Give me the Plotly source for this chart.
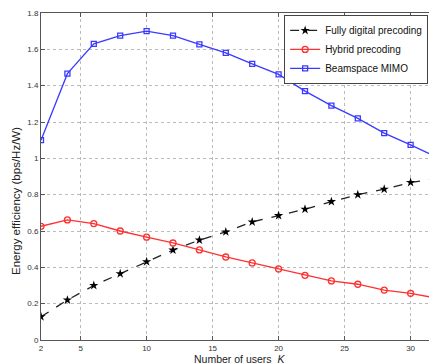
import plotly.graph_objects as go

users = [2, 4, 6, 8, 10, 12, 14, 16, 18, 20, 22, 24, 26, 28, 30, 32]
fully_digital = [0.128, 0.22, 0.30, 0.365, 0.431, 0.495, 0.55, 0.595, 0.65, 0.685, 0.72, 0.762, 0.80, 0.83, 0.867, 0.889]
hybrid = [0.626, 0.661, 0.641, 0.60, 0.566, 0.534, 0.496, 0.457, 0.424, 0.391, 0.356, 0.325, 0.307, 0.275, 0.257, 0.23]
beamspace = [1.10, 1.466, 1.63, 1.675, 1.70, 1.676, 1.627, 1.58, 1.52, 1.462, 1.37, 1.29, 1.22, 1.139, 1.074, 1.006]

x_ticks = [2, 5, 10, 15, 20, 25, 30, 32]
y_ticks = [0, 0.2, 0.4, 0.6, 0.8, 1.0, 1.2, 1.4, 1.6, 1.8]
y_labels = ["0", "0.2", "0.4", "0.6", "0.8", "1", "1.2", "1.4", "1.6", "1.8"]

FONT = "Liberation Sans, Arial"

fig = go.Figure()
fig.add_trace(go.Scatter(x=users, y=fully_digital, name="Fully digital precoding",
                         mode="lines+markers",
                         line=dict(color="#222222", width=1.3, dash="dash"),
                         marker=dict(symbol="star", size=7, color="black")))
fig.add_trace(go.Scatter(x=users, y=hybrid, name="Hybrid precoding",
                         mode="lines+markers",
                         line=dict(color="#ff3030", width=1.3),
                         marker=dict(symbol="circle-open", size=6, color="#ff3030", line=dict(width=1.3))))
fig.add_trace(go.Scatter(x=users, y=beamspace, name="Beamspace MIMO",
                         mode="lines+markers",
                         line=dict(color="#3a3aff", width=1.3),
                         marker=dict(symbol="square-open", size=5, color="#3a3aff", line=dict(width=1.3))))

axis_common = dict(showgrid=True, gridcolor="#bbbbbb", griddash="dot", gridwidth=1,
                   showline=True, linecolor="#555555", linewidth=1, mirror="ticks",
                   ticks="inside", ticklen=4, tickcolor="#555555", zeroline=False,
                   automargin=False,
                   tickfont=dict(family=FONT, size=8, color="#333333"))

fig.update_xaxes(range=[2, 32], tickvals=x_ticks, ticktext=[str(v) for v in x_ticks], **axis_common)
fig.update_yaxes(range=[0, 1.8], tickvals=y_ticks, ticktext=y_labels, **axis_common)

fig.add_annotation(text="Number of users  <i>K</i>", xref="paper", yref="paper",
                   x=0.5, y=0, xanchor="center", yanchor="middle", yshift=-19,
                   showarrow=False, font=dict(family=FONT, size=10.5, color="#222222"))
fig.add_annotation(text="Energy efficiency (bps/Hz/W)", xref="paper", yref="paper",
                   x=0, y=0.425, xanchor="right", yanchor="middle", xshift=-17,
                   textangle=-90, showarrow=False,
                   font=dict(family=FONT, size=11.5, color="#222222"))

fig.update_layout(
    width=429, height=356,
    margin=dict(l=33, r=0, t=5, b=24, autoexpand=False),
    plot_bgcolor="white", paper_bgcolor="white",
    legend=dict(x=0.614, xanchor="left", y=0.994, yanchor="top",
                bgcolor="white", bordercolor="#444444", borderwidth=1,
                font=dict(family=FONT, size=10, color="#111111"),
                tracegroupgap=0, itemwidth=30),
    showlegend=True,
)

fig.write_html("out.html")
